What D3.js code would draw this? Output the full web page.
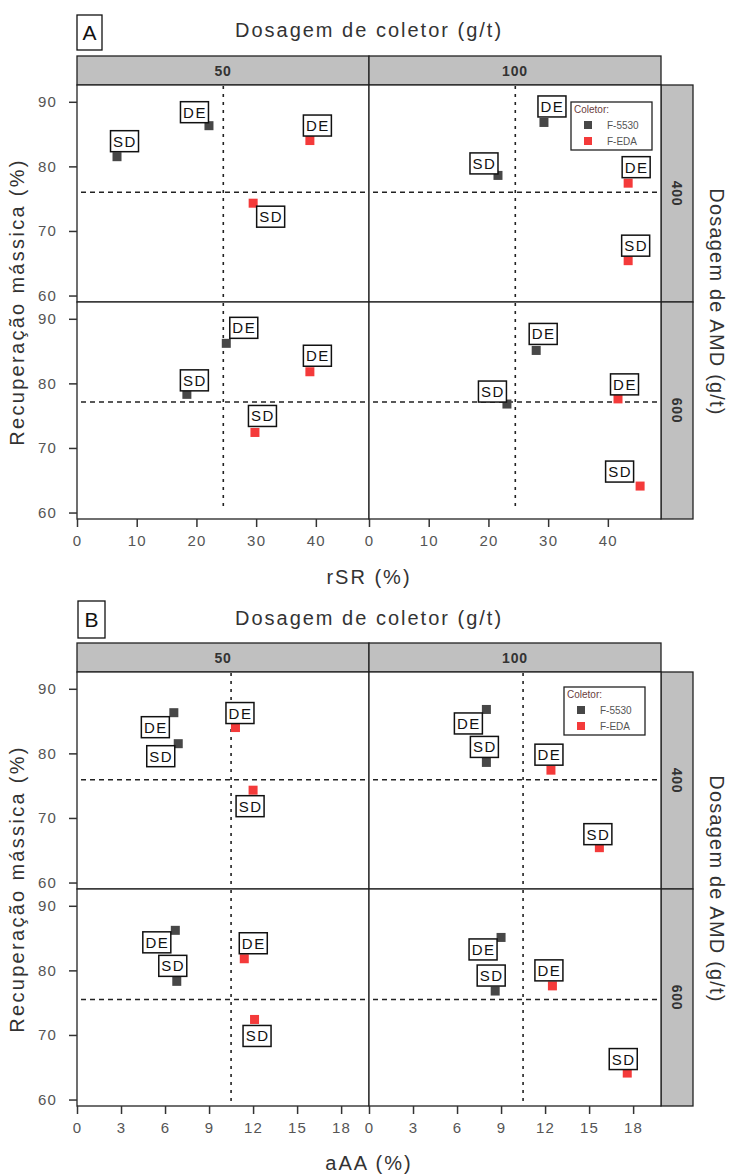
<!DOCTYPE html>
<html>
<head>
<meta charset="utf-8">
<script src="https://cdn.jsdelivr.net/npm/d3@7"></script>
<style>
  html, body { margin: 0; padding: 0; background: #fff; }
  svg { display: block; font-family: "Liberation Sans", Arial, sans-serif; }
</style>
</head>
<body>
<svg id="chart" width="733" height="1176"></svg>
<script>
// ---------------- DATA ----------------
const collectors = ["F-5530", "F-EDA"];
const collectorDoses = ["50", "100"];          // columns (g/t)
const amdDoses = ["400", "600"];               // rows (g/t)
const yTicks = [60, 70, 80, 90];
const xTicksA = [0, 10, 20, 30, 40];
const xTicksB = [0, 3, 6, 9, 12, 15, 18];

// 16 experiments, same order in every array
const ptAmd      = ["400","400","400","400","400","400","400","400","600","600","600","600","600","600","600","600"];
const ptDose     = ["50","50","50","50","100","100","100","100","50","50","50","50","100","100","100","100"];
const ptColetor  = ["F-5530","F-5530","F-EDA","F-EDA","F-5530","F-5530","F-EDA","F-EDA","F-5530","F-5530","F-EDA","F-EDA","F-5530","F-5530","F-EDA","F-EDA"];
const ptMethod   = ["SD","DE","SD","DE","SD","DE","SD","DE","SD","DE","SD","DE","SD","DE","SD","DE"];
const recovery   = [81.5, 86.3, 74.3, 84.0, 78.6, 86.8, 65.4, 77.4, 78.3, 86.2, 72.4, 81.8, 76.8, 85.1, 64.1, 77.6];
const rSR        = [6.7, 22.1, 29.5, 39.0, 21.6, 29.3, 43.4, 43.4, 18.4, 25.0, 29.8, 39.0, 23.1, 28.0, 45.4, 41.7];
const aAA        = [6.9, 6.6, 12.0, 10.8, 8.0, 8.0, 15.7, 12.4, 6.8, 6.7, 12.1, 11.4, 8.6, 9.0, 17.6, 12.5];

// reference lines
const refRecA = [76.0, 77.1];   // per AMD row
const refRecB = [75.9, 75.5];
const refXA = 24.5;
const refXB = 10.5;

// label placement (annotation offsets, px)
const labelDxA = [7.5,-14.5,17.5,7.5, -14,8,7.5,8, 7.5,17.5,7.5,7.5, -14.5,7,-20.5,6.5];
const labelDyA = [-15.5,-13.5,13.5,-15, -12,-16,-15,-16, -14,-15.5,-16.5,-16, -12.5,-16.5,-14.5,-14.5];
const labelDxB = [-17.5,-18.5,-3,4.5, -2,-18,-1.5,-2, -4,-18.5,2.5,9, -4,-18,-4,-3.5];
const labelDyB = [12.5,14.5,16,-14.5, -15.5,14,-13.5,-15.5, -15.5,12,16.5,-15.5, -15.5,12,-14,-15.5];

// ---------------- STYLE / LAYOUT ----------------
const colors = d3.scaleOrdinal().domain(collectors).range(["#474747", "#f43a3a"]);
const L = 77, colW = 292, rowH = 217, stripH = 29, rStripW = 32;
const svg = d3.select("#chart");

const panels = [
  { letter: "A", top: 56, xVals: rSR, xDomain: [0, 48.9], xTicks: xTicksA, xTitle: "rSR (%)",
    refRec: refRecA, refX: refXA, vEnd: 61, dx: labelDxA, dy: labelDyA,
    letterBox: [77, 15, 25, 35], titleY: 37, xTitleY: 584, legend: [571, 102] },
  { letter: "B", top: 643, xVals: aAA, xDomain: [0, 19.9], xTicks: xTicksB, xTitle: "aAA (%)",
    refRec: refRecB, refX: refXB, vEnd: 59, dx: labelDxB, dy: labelDyB,
    letterBox: [78, 601, 27, 37], titleY: 625, xTitleY: 1170, legend: [564, 687] }
];

panels.forEach(p => {
  const g = svg.append("g");
  const plotTop = p.top + stripH;
  const right = L + 2 * colW;

  // letter box
  g.append("rect").attr("x", p.letterBox[0]).attr("y", p.letterBox[1])
    .attr("width", p.letterBox[2]).attr("height", p.letterBox[3])
    .attr("fill", "#fff").attr("stroke", "#111").attr("stroke-width", 1.3);
  g.append("text").attr("x", p.letterBox[0] + p.letterBox[2] / 2).attr("y", p.letterBox[1] + p.letterBox[3] / 2 + 7)
    .attr("text-anchor", "middle").attr("font-size", 21).attr("fill", "#111").text(p.letter);

  // top title
  g.append("text").attr("x", (L + right) / 2).attr("y", p.titleY)
    .attr("text-anchor", "middle").attr("font-size", 20).attr("letter-spacing", 2)
    .attr("fill", "#333").text("Dosagem de coletor (g/t)");

  // top strips
  collectorDoses.forEach((d, ci) => {
    g.append("rect").attr("x", L + ci * colW).attr("y", p.top).attr("width", colW).attr("height", stripH)
      .attr("fill", "#c0c0c0").attr("stroke", "#222").attr("stroke-width", 1.3);
    g.append("text").attr("x", L + ci * colW + colW / 2).attr("y", p.top + 20)
      .attr("text-anchor", "middle").attr("font-size", 14).attr("font-weight", "bold")
      .attr("letter-spacing", 0.8).attr("fill", "#333").text(d);
  });

  // right strips
  amdDoses.forEach((d, ri) => {
    const y0 = plotTop + ri * rowH;
    g.append("rect").attr("x", right).attr("y", y0).attr("width", rStripW).attr("height", rowH)
      .attr("fill", "#c0c0c0").attr("stroke", "#222").attr("stroke-width", 1.3);
    g.append("text").attr("transform", `translate(${right + 11},${y0 + rowH / 2}) rotate(90)`)
      .attr("text-anchor", "middle").attr("font-size", 14).attr("font-weight", "bold")
      .attr("letter-spacing", 0.8).attr("fill", "#333").text(d);
  });

  // right title
  g.append("text").attr("transform", `translate(710,${plotTop + rowH}) rotate(90)`)
    .attr("text-anchor", "middle").attr("font-size", 20).attr("letter-spacing", 1.2).attr("fill", "#333")
    .text("Dosagem de AMD (g/t)");

  // left title
  g.append("text").attr("transform", `translate(24,${plotTop + rowH}) rotate(-90)`)
    .attr("text-anchor", "middle").attr("font-size", 20).attr("letter-spacing", 2.3).attr("fill", "#333")
    .text("Recuperação mássica (%)");

  // x title
  g.append("text").attr("x", (L + right) / 2).attr("y", p.xTitleY)
    .attr("text-anchor", "middle").attr("font-size", 20).attr("letter-spacing", 2)
    .attr("fill", "#333").text(p.xTitle);

  amdDoses.forEach((amd, ri) => {
    const y0 = plotTop + ri * rowH;
    const y = d3.scaleLinear().domain([59, 92.6]).range([y0 + rowH, y0]);

    collectorDoses.forEach((dose, ci) => {
      const x0 = L + ci * colW;
      const x = d3.scaleLinear().domain(p.xDomain).range([x0, x0 + colW]);
      const cell = g.append("g");

      cell.append("rect").attr("x", x0).attr("y", y0).attr("width", colW).attr("height", rowH).attr("fill", "#fff");

      // reference lines
      cell.append("line").attr("x1", x0 + 4).attr("x2", x0 + colW - 2)
        .attr("y1", y(p.refRec[ri])).attr("y2", y(p.refRec[ri]))
        .attr("stroke", "#222").attr("stroke-width", 1.5).attr("stroke-dasharray", "5,4");
      cell.append("line").attr("x1", x(p.refX)).attr("x2", x(p.refX))
        .attr("y1", y0 + 1).attr("y2", ri === 1 ? y(p.vEnd) : y0 + rowH)
        .attr("stroke", "#222").attr("stroke-width", 1.6).attr("stroke-dasharray", "3,5");

      const idx = d3.range(recovery.length).filter(i => ptAmd[i] === amd && ptDose[i] === dose);

      // markers
      cell.selectAll("rect.pt").data(idx).join("rect").attr("class", "pt")
        .attr("x", i => x(p.xVals[i]) - 4.5).attr("y", i => y(recovery[i]) - 4.5)
        .attr("width", 9).attr("height", 9).attr("fill", i => colors(ptColetor[i]));

      // labels
      const lab = cell.selectAll("g.lab").data(idx).join("g").attr("class", "lab")
        .attr("transform", i => `translate(${x(p.xVals[i]) + p.dx[i]},${y(recovery[i]) + p.dy[i]})`);
      lab.append("rect").attr("x", -14).attr("y", -10.5).attr("width", 28).attr("height", 21)
        .attr("fill", "#fff").attr("stroke", "#111").attr("stroke-width", 1.5);
      lab.append("text").attr("x", 0.5).attr("y", 5.5).attr("text-anchor", "middle")
        .attr("font-size", 15).attr("letter-spacing", 1.5).attr("fill", "#111")
        .text(i => ptMethod[i]);

      // border
      cell.append("rect").attr("x", x0).attr("y", y0).attr("width", colW).attr("height", rowH)
        .attr("fill", "none").attr("stroke", "#222").attr("stroke-width", 1.3);

      // x axis on bottom row
      if (ri === 1) {
        const ax = g.append("g").attr("transform", `translate(0,${y0 + rowH})`)
          .call(d3.axisBottom(x).tickValues(p.xTicks).tickSize(8).tickSizeOuter(0).tickPadding(8));
        ax.select(".domain").remove();
        ax.selectAll("line").attr("stroke", "#333").attr("stroke-width", 1.5);
        ax.selectAll("text").attr("font-size", 15).attr("letter-spacing", 1.2).attr("fill", "#555")
          .attr("font-family", "Liberation Sans, Arial, sans-serif");
      }
    });

    // y axis
    const ay = g.append("g").attr("transform", `translate(${L},0)`)
      .call(d3.axisLeft(y).tickValues(yTicks).tickSize(8).tickSizeOuter(0).tickPadding(12));
    ay.select(".domain").remove();
    ay.selectAll("line").attr("stroke", "#333").attr("stroke-width", 1.5);
    ay.selectAll("text").attr("font-size", 15).attr("letter-spacing", 1.2).attr("fill", "#555")
      .attr("font-family", "Liberation Sans, Arial, sans-serif");
  });

  // legend
  const lg = g.append("g").attr("transform", `translate(${p.legend[0]},${p.legend[1]})`);
  lg.append("rect").attr("width", 81).attr("height", 48).attr("fill", "#fff")
    .attr("stroke", "#222").attr("stroke-width", 1.3);
  lg.append("text").attr("x", 3).attr("y", 11).attr("font-size", 10).attr("fill", "#6a4040").text("Coletor:");
  collectors.forEach((c, k) => {
    lg.append("rect").attr("x", 13).attr("y", 19 + k * 16).attr("width", 8).attr("height", 8).attr("fill", colors(c));
    lg.append("text").attr("x", 36).attr("y", 27 + k * 16).attr("font-size", 10).attr("fill", "#555").text(c);
  });
});
</script>
</body>
</html>
